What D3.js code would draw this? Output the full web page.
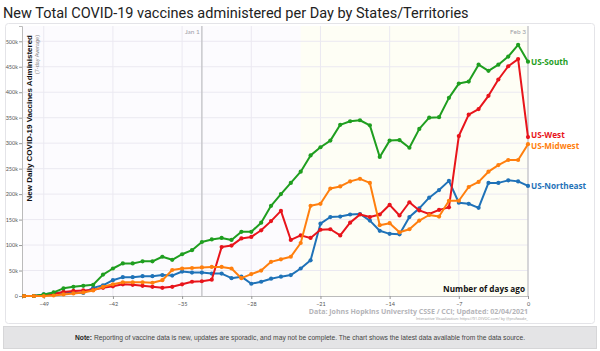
<!DOCTYPE html>
<html>
<head>
<meta charset="utf-8">
<script src="https://cdn.jsdelivr.net/npm/d3@7"></script>
<style>
  body { margin: 0; background: #fff; }
  svg { display: block; }
</style>
</head>
<body>
<div id="chart"></div>
<script>
// days ago, -51 .. 0
var days = d3.range(-51, 1);

// 7-day average, thousands of doses
var south = [0, 0, 3, 7, 15, 18, 20, 22, 42, 54, 64, 64, 68, 68, 77, 71, 82, 90, 106, 111, 114, 110, 126, 126,
  144, 177, 200, 222, 244, 276, 292, 305, 336, 343, 345, 335, 273, 305, 306, 291, 328, 350, 351, 389,
  417, 421, 454, 442, 454, 470, 493, 460];
var west = [0, 0, 1, 4, 8, 10, 11, 12, 16, 19, 23, 22, 20, 18, 16, 18, 23, 28, 29, 32, 96, 99, 113, 116,
  129, 147, 167, 110, 119, 114, 130, 131, 119, 144, 160, 155, 160, 179, 158, 184, 168, 161, 169, 174,
  314, 356, 367, 393, 425, 451, 465, 312];
var midwest = [0, 0, 0, 1, 3, 5, 7, 11, 18, 23, 27, 27, 27, 26, 31, 51, 54, 55, 56, 57, 57, 54, 35, 43,
  50, 67, 72, 77, 104, 177, 181, 211, 215, 225, 230, 222, 139, 143, 125, 131, 148, 159, 156, 187,
  187, 214, 224, 244, 257, 267, 267, 298];
var northeast = [0, 0, 3, 6, 7, 7, 6, 16, 21, 31, 37, 37, 39, 39, 41, 40, 48, 46, 46, 44, 44, 35, 38, 24,
  28, 34, 38, 41, 54, 70, 142, 155, 156, 160, 161, 148, 128, 122, 121, 155, 172, 193, 208, 226,
  183, 181, 173, 222, 222, 227, 225, 216];

var regionNames = ["US-South", "US-West", "US-Midwest", "US-Northeast"];
var regionColors = ["#1f9e1f", "#e8141b", "#ff7f0e", "#1f72b8"];
var xTicks = [-49, -42, -35, -28, -21, -14, -7, 0];
var yTicks = [0, 50, 100, 150, 200, 250, 300, 350, 400, 450, 500];
var markers = [{day: -33, label: "Jan 1"}, {day: 0, label: "Feb 3"}];

var seriesValues = [south, west, midwest, northeast];
var series = regionNames.map(function(name, i) {
  return {
    name: name,
    color: regionColors[i],
    values: days.map(function(d, j) { return {day: d, value: seriesValues[i][j]}; })
  };
});

// small nudges so the West / Midwest end labels do not collide
var labelShift = {"US-West": -1.5, "US-Midwest": 2};

var W = 600, H = 351;
var plot = {left: 22, right: 528, top: 26, bottom: 296};

var svg = d3.select("#chart")
  .append("svg")
    .attr("width", W)
    .attr("height", H);

var x = d3.scaleLinear()
  .domain([-51.2, 0])
  .range([plot.left, plot.right]);

var y = d3.scaleLinear()
  .domain([0, 530])
  .range([plot.bottom, plot.top]);

// title
svg.append("text")
  .attr("x", 3)
  .attr("y", 18)
  .style("font-family", "Roboto, sans-serif")
  .style("font-size", "14.5px")
  .style("fill", "#222")
  .text("New Total COVID-19 vaccines administered per Day by States/Territories");

// outer frame
svg.append("rect")
  .attr("x", 5.5).attr("y", 23.5)
  .attr("width", 589).attr("height", 300)
  .attr("rx", 3)
  .style("fill", "#fff")
  .style("stroke", "#e4e4e8");

// plot background
svg.append("rect")
  .attr("x", plot.left).attr("y", plot.top)
  .attr("width", plot.right - plot.left).attr("height", plot.bottom - plot.top)
  .style("fill", "#fcfbfe");

svg.append("rect")
  .attr("x", x(-23)).attr("y", plot.top)
  .attr("width", plot.right - x(-23)).attr("height", plot.bottom - plot.top)
  .style("fill", "#fefef5");

// grid
svg.append("g")
  .selectAll("line")
  .data(yTicks.slice(1))
  .enter()
  .append("line")
    .attr("x1", plot.left).attr("x2", plot.right)
    .attr("y1", function(d) { return y(d); })
    .attr("y2", function(d) { return y(d); })
    .style("stroke", "#ebe9f1")
    .style("stroke-width", 1);

svg.append("g")
  .selectAll("line")
  .data(xTicks.slice(0, -1))
  .enter()
  .append("line")
    .attr("x1", function(d) { return x(d); })
    .attr("x2", function(d) { return x(d); })
    .attr("y1", plot.top).attr("y2", plot.bottom)
    .style("stroke", "#ebe9f1")
    .style("stroke-width", 1);

// date markers
var mk = svg.append("g")
  .selectAll("g")
  .data(markers)
  .enter()
  .append("g");

mk.append("line")
  .attr("x1", function(d) { return x(d.day); })
  .attr("x2", function(d) { return x(d.day); })
  .attr("y1", plot.top).attr("y2", plot.bottom)
  .style("stroke", "#c8c8cc")
  .style("stroke-width", 1.5);

mk.append("text")
  .attr("x", function(d) { return x(d.day) - 2; })
  .attr("y", 34)
  .attr("text-anchor", "end")
  .style("font-family", "Lato, sans-serif")
  .style("font-size", "6.5px")
  .style("fill", "#a0a0a8")
  .text(function(d) { return d.label; });

// axes
var yAxis = d3.axisLeft(y)
  .tickValues(yTicks)
  .tickSize(3)
  .tickFormat(function(d) { return d === 0 ? "0" : d + "k"; });

svg.append("g")
  .attr("transform", "translate(" + plot.left + ",0)")
  .call(yAxis)
  .call(function(g) {
    g.select(".domain").style("stroke", "#bbb");
    g.selectAll(".tick line").style("stroke", "#999");
    g.selectAll(".tick text")
      .attr("x", -4)
      .style("font-family", "Lato, sans-serif")
      .style("font-size", "5.5px")
      .style("fill", "#555");
  });

var xAxis = d3.axisBottom(x)
  .tickValues(xTicks)
  .tickSize(3)
  .tickFormat(d3.format("d"));

svg.append("g")
  .attr("transform", "translate(0," + plot.bottom + ")")
  .call(xAxis)
  .call(function(g) {
    g.select(".domain").style("stroke", "#bbb");
    g.selectAll(".tick line").style("stroke", "#999");
    g.selectAll(".tick text")
      .attr("y", 6)
      .style("font-family", "Lato, sans-serif")
      .style("font-size", "5.5px")
      .style("fill", "#555");
  });

// y title
svg.append("text")
  .attr("transform", "translate(32,35) rotate(-90)")
  .attr("text-anchor", "end")
  .style("font-family", "'Liberation Sans', Arial, sans-serif")
  .style("font-weight", "bold")
  .style("font-size", "8px")
  .style("fill", "#111")
  .text("New Daily COVID-19 Vaccines Administered");

svg.append("text")
  .attr("transform", "translate(38.5,35) rotate(-90)")
  .attr("text-anchor", "end")
  .style("font-family", "'Liberation Sans', Arial, sans-serif")
  .style("font-size", "5.5px")
  .style("fill", "#888")
  .text("(7-day Average)");

svg.append("text")
  .attr("x", 525)
  .attr("y", 292)
  .attr("text-anchor", "end")
  .style("font-family", "'Open Sans', sans-serif")
  .style("font-weight", "bold")
  .style("font-size", "8.2px")
  .style("fill", "#111")
  .text("Number of days ago");

// lines
var line = d3.line()
  .x(function(d) { return x(d.day); })
  .y(function(d) { return y(d.value); });

var drawOrder = [3, 1, 0, 2];
var sg = svg.append("g")
  .selectAll("g")
  .data(drawOrder.map(function(i) { return series[i]; }))
  .enter()
  .append("g");

sg.append("path")
  .attr("d", function(d) { return line(d.values); })
  .style("fill", "none")
  .style("stroke", function(d) { return d.color; })
  .style("stroke-width", 2)
  .style("stroke-linejoin", "round");

sg.selectAll("circle")
  .data(function(d) { return d.values.map(function(v) { return {day: v.day, value: v.value, color: d.color}; }); })
  .enter()
  .append("circle")
    .attr("cx", function(d) { return x(d.day); })
    .attr("cy", function(d) { return y(d.value); })
    .attr("r", 2.1)
    .style("fill", function(d) { return d.color; });

// end labels
svg.append("g")
  .selectAll("text")
  .data(series)
  .enter()
  .append("text")
    .attr("x", x(0) + 3)
    .attr("y", function(d) {
      return y(d.values[d.values.length - 1].value) + (labelShift[d.name] || 0);
    })
    .attr("dy", "0.35em")
    .style("font-family", "'Open Sans', sans-serif")
    .style("font-weight", "bold")
    .style("font-size", "8.2px")
    .style("fill", function(d) { return d.color; })
    .text(function(d) { return d.name; });

// source
svg.append("text")
  .attr("x", 528)
  .attr("y", 314)
  .attr("text-anchor", "end")
  .style("font-family", "'Open Sans', sans-serif")
  .style("font-weight", "bold")
  .style("font-size", "7px")
  .style("fill", "#b4b4b8")
  .text("Data: Johns Hopkins University CSSE / CCI; Updated: 02/04/2021");

svg.append("text")
  .attr("x", 528)
  .attr("y", 320)
  .attr("text-anchor", "end")
  .style("font-family", "'Open Sans', sans-serif")
  .style("font-size", "3.8px")
  .style("fill", "#999")
  .text("Interactive Visualization: https://91-DIVOC.com/ by @profwade_");

// note bar
svg.append("rect")
  .attr("x", 3.5).attr("y", 326.5)
  .attr("width", 593).attr("height", 22)
  .style("fill", "#e4e4e6")
  .style("stroke", "#d6d6d8");

var note = svg.append("text")
  .attr("x", 300)
  .attr("y", 340)
  .attr("text-anchor", "middle")
  .style("font-family", "'Liberation Sans', Arial, sans-serif")
  .style("font-size", "6.7px")
  .style("fill", "#444");

note.append("tspan")
  .style("font-weight", "bold")
  .style("fill", "#222")
  .text("Note:");

note.append("tspan")
  .text(" Reporting of vaccine data is new, updates are sporadic, and may not be complete. The chart shows the latest data available from the data source.");
</script>
</body>
</html>
